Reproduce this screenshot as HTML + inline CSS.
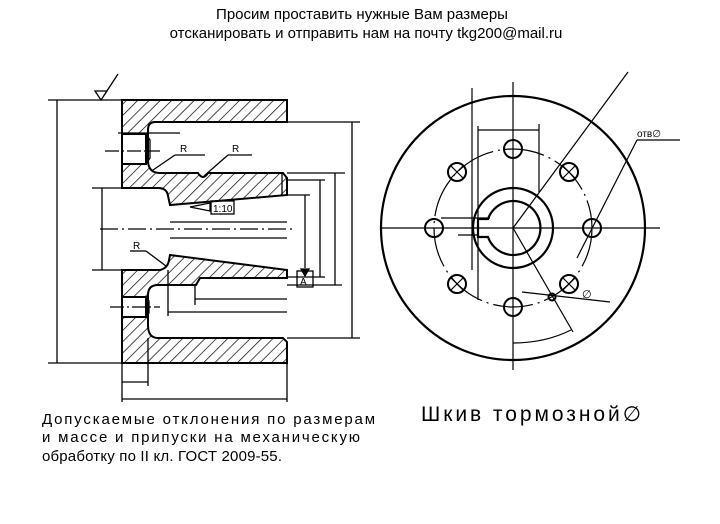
<!DOCTYPE html>
<html><head><meta charset="utf-8"><style>
html,body{margin:0;padding:0;background:#fff;width:720px;height:524px;overflow:hidden}
svg{display:block}
</style></head><body>
<svg width="720" height="524" viewBox="0 0 720 524" xmlns="http://www.w3.org/2000/svg">
<defs>
<pattern id="h" width="8" height="8" patternUnits="userSpaceOnUse" patternTransform="rotate(45)">
<line x1="0" y1="0" x2="0" y2="8" stroke="#000" stroke-width="1.4"/>
</pattern>
</defs>
<text x="362" y="19" font-family="Liberation Sans, sans-serif" font-size="15" text-anchor="middle">Просим проставить нужные Вам размеры</text>
<text x="366" y="38" font-family="Liberation Sans, sans-serif" font-size="15" text-anchor="middle">отсканировать и отправить нам на почту tkg200@mail.ru</text>

<g fill="none" stroke="#000" stroke-width="2">
<path fill="url(#h)" d="M122,100 L287,100 L287,122 L155,122 Q148,122 148,130 L148,160 Q148,173 160,173 L198,173 Q203,181 208,173 L283,173 L287,178 L287,195 L170,205 L168,196 Q167,188 158,188 L122,188 Z"/>
<path fill="url(#h)" d="M122,270 L160,270 Q168,268 169,260 L170,255 L287,270 L287,278 L200,278 L196,285 L158,285 Q148,285 148,295 L148,325 Q148,338 158,338 L283,338 L287,342 L287,363 L122,363 Z"/>
<rect x="122" y="134" width="24" height="30" fill="#fff"/>
<rect x="122" y="297" width="24" height="20" fill="#fff"/>
</g>
<g fill="none" stroke="#000" stroke-width="1.3">
<path d="M146,134 L150,140 L150,158 L146,164"/>
<path d="M146,297 L149,301 L149,313 L146,317"/>
<line x1="170" y1="222" x2="287" y2="222"/><line x1="170" y1="238" x2="287" y2="238"/>
<line x1="100" y1="229" x2="292" y2="229" stroke-dasharray="18,4,2,4"/>
<line x1="105" y1="151" x2="160" y2="151" stroke-dasharray="14,3,2,3"/>
<line x1="110" y1="307" x2="160" y2="307" stroke-dasharray="14,3,2,3"/>
<line x1="118" y1="133" x2="180" y2="133"/>
<line x1="48" y1="100" x2="122" y2="100"/><line x1="48" y1="363" x2="122" y2="363"/><line x1="57" y1="100" x2="57" y2="363"/>
<line x1="92" y1="188" x2="122" y2="188"/><line x1="92" y1="270" x2="122" y2="270"/><line x1="102" y1="188" x2="102" y2="270"/>
<line x1="287" y1="122" x2="360" y2="122"/><line x1="287" y1="338" x2="360" y2="338"/><line x1="352" y1="122" x2="352" y2="338"/>
<line x1="287" y1="173" x2="345" y2="173"/><line x1="287" y1="285" x2="342" y2="285"/><line x1="335" y1="173" x2="335" y2="285"/>
<line x1="287" y1="180" x2="325" y2="180"/><line x1="320" y1="180" x2="320" y2="277"/><line x1="287" y1="277" x2="325" y2="277"/>
<line x1="287" y1="195" x2="310" y2="195"/><line x1="305" y1="195" x2="305" y2="268"/>
<line x1="282" y1="172" x2="282" y2="195"/>
<line x1="195" y1="285" x2="195" y2="305"/><line x1="195" y1="299" x2="287" y2="299"/>
<line x1="168" y1="270" x2="168" y2="316"/><line x1="168" y1="312" x2="287" y2="312"/>
<line x1="122" y1="363" x2="122" y2="402"/><line x1="148" y1="338" x2="148" y2="386"/><line x1="287" y1="363" x2="287" y2="402"/>
<line x1="122" y1="382" x2="148" y2="382"/><line x1="122" y1="399" x2="287" y2="399"/>
<line x1="175" y1="155" x2="205" y2="155"/><line x1="175" y1="155" x2="153" y2="170"/>
<line x1="228" y1="155" x2="252" y2="155"/><line x1="228" y1="155" x2="204" y2="176"/>
<line x1="130" y1="251" x2="146" y2="251"/><line x1="146" y1="251" x2="166" y2="266"/>
<path d="M95,91 L107,91 L101,100 Z M101,100 L118,74"/>
<path d="M190,207 L210,203 L210,211 Z"/>
<rect x="211" y="201" width="23" height="13"/>
<rect x="297" y="271" width="16" height="16"/>
<path d="M301,269 L305,276 L309,269 Z" fill="#000"/>
</g>
<g font-family="Liberation Sans, sans-serif" font-size="10">
<text x="180" y="152">R</text><text x="232" y="152">R</text><text x="133" y="249">R</text>
<text x="213" y="212" font-size="10">1:10</text><text x="300" y="285">A</text>
</g>

<g fill="none" stroke="#000">
<circle cx="513" cy="228" r="132" stroke-width="2.2"/>
<circle cx="513" cy="228" r="40" stroke-width="2.2"/>
<path stroke-width="2.2" d="M488,219 A27,27 0 1 1 488,237 L478,237 L478,219 Z"/>
<circle cx="513" cy="228" r="79" stroke-width="1.2" stroke-dasharray="40,5,2,5"/>
<g stroke-width="2">
<circle cx="513" cy="149" r="9"/><circle cx="513" cy="307" r="9"/>
<circle cx="434" cy="228" r="9"/><circle cx="592" cy="228" r="9"/>
<circle cx="457" cy="172" r="9"/><circle cx="569" cy="172" r="9"/>
<circle cx="457" cy="284" r="9"/><circle cx="569" cy="284" r="9"/>
</g>
<g stroke-width="1.2">
<path d="M451,166 L463,178 M463,166 L451,178 M563,166 L575,178 M575,166 L563,178 M451,278 L463,290 M463,278 L451,290 M563,278 L575,290 M575,278 L563,290"/>
<line x1="380" y1="228" x2="660" y2="228"/><line x1="513" y1="82" x2="513" y2="370"/>
<line x1="472" y1="88" x2="472" y2="270"/>
<line x1="478" y1="126" x2="478" y2="300"/><line x1="539" y1="124" x2="539" y2="192"/>
<line x1="478" y1="130" x2="539" y2="130"/>
<line x1="441" y1="218" x2="490" y2="218"/><line x1="458" y1="235" x2="478" y2="235"/>
<line x1="513" y1="228" x2="628" y2="72"/>
<line x1="577" y1="258" x2="637" y2="140"/><line x1="637" y1="140" x2="680" y2="140"/>
<line x1="513" y1="228" x2="573" y2="332"/>
<line x1="522" y1="292" x2="610" y2="302"/>
<path d="M513,343 Q545,343 571,330"/>
</g>
<circle cx="552" cy="297" r="3.5" stroke-width="2"/>
</g>
<g font-family="Liberation Sans, sans-serif" font-size="10">
<text x="637" y="137">отв∅</text><text x="582" y="298" font-size="11">∅</text>
</g>

<g font-family="Liberation Sans, sans-serif" font-size="15" fill="#000">
<text x="42" y="424" textLength="333">Допускаемые отклонения по размерам</text>
<text x="42" y="442" textLength="318">и массе и припуски на механическую</text>
<text x="42" y="461" textLength="240">обработку по II кл. ГОСТ 2009-55.</text>
<text x="421" y="421" font-size="21" textLength="220">Шкив тормозной∅</text>
</g>
</svg>
</body></html>
